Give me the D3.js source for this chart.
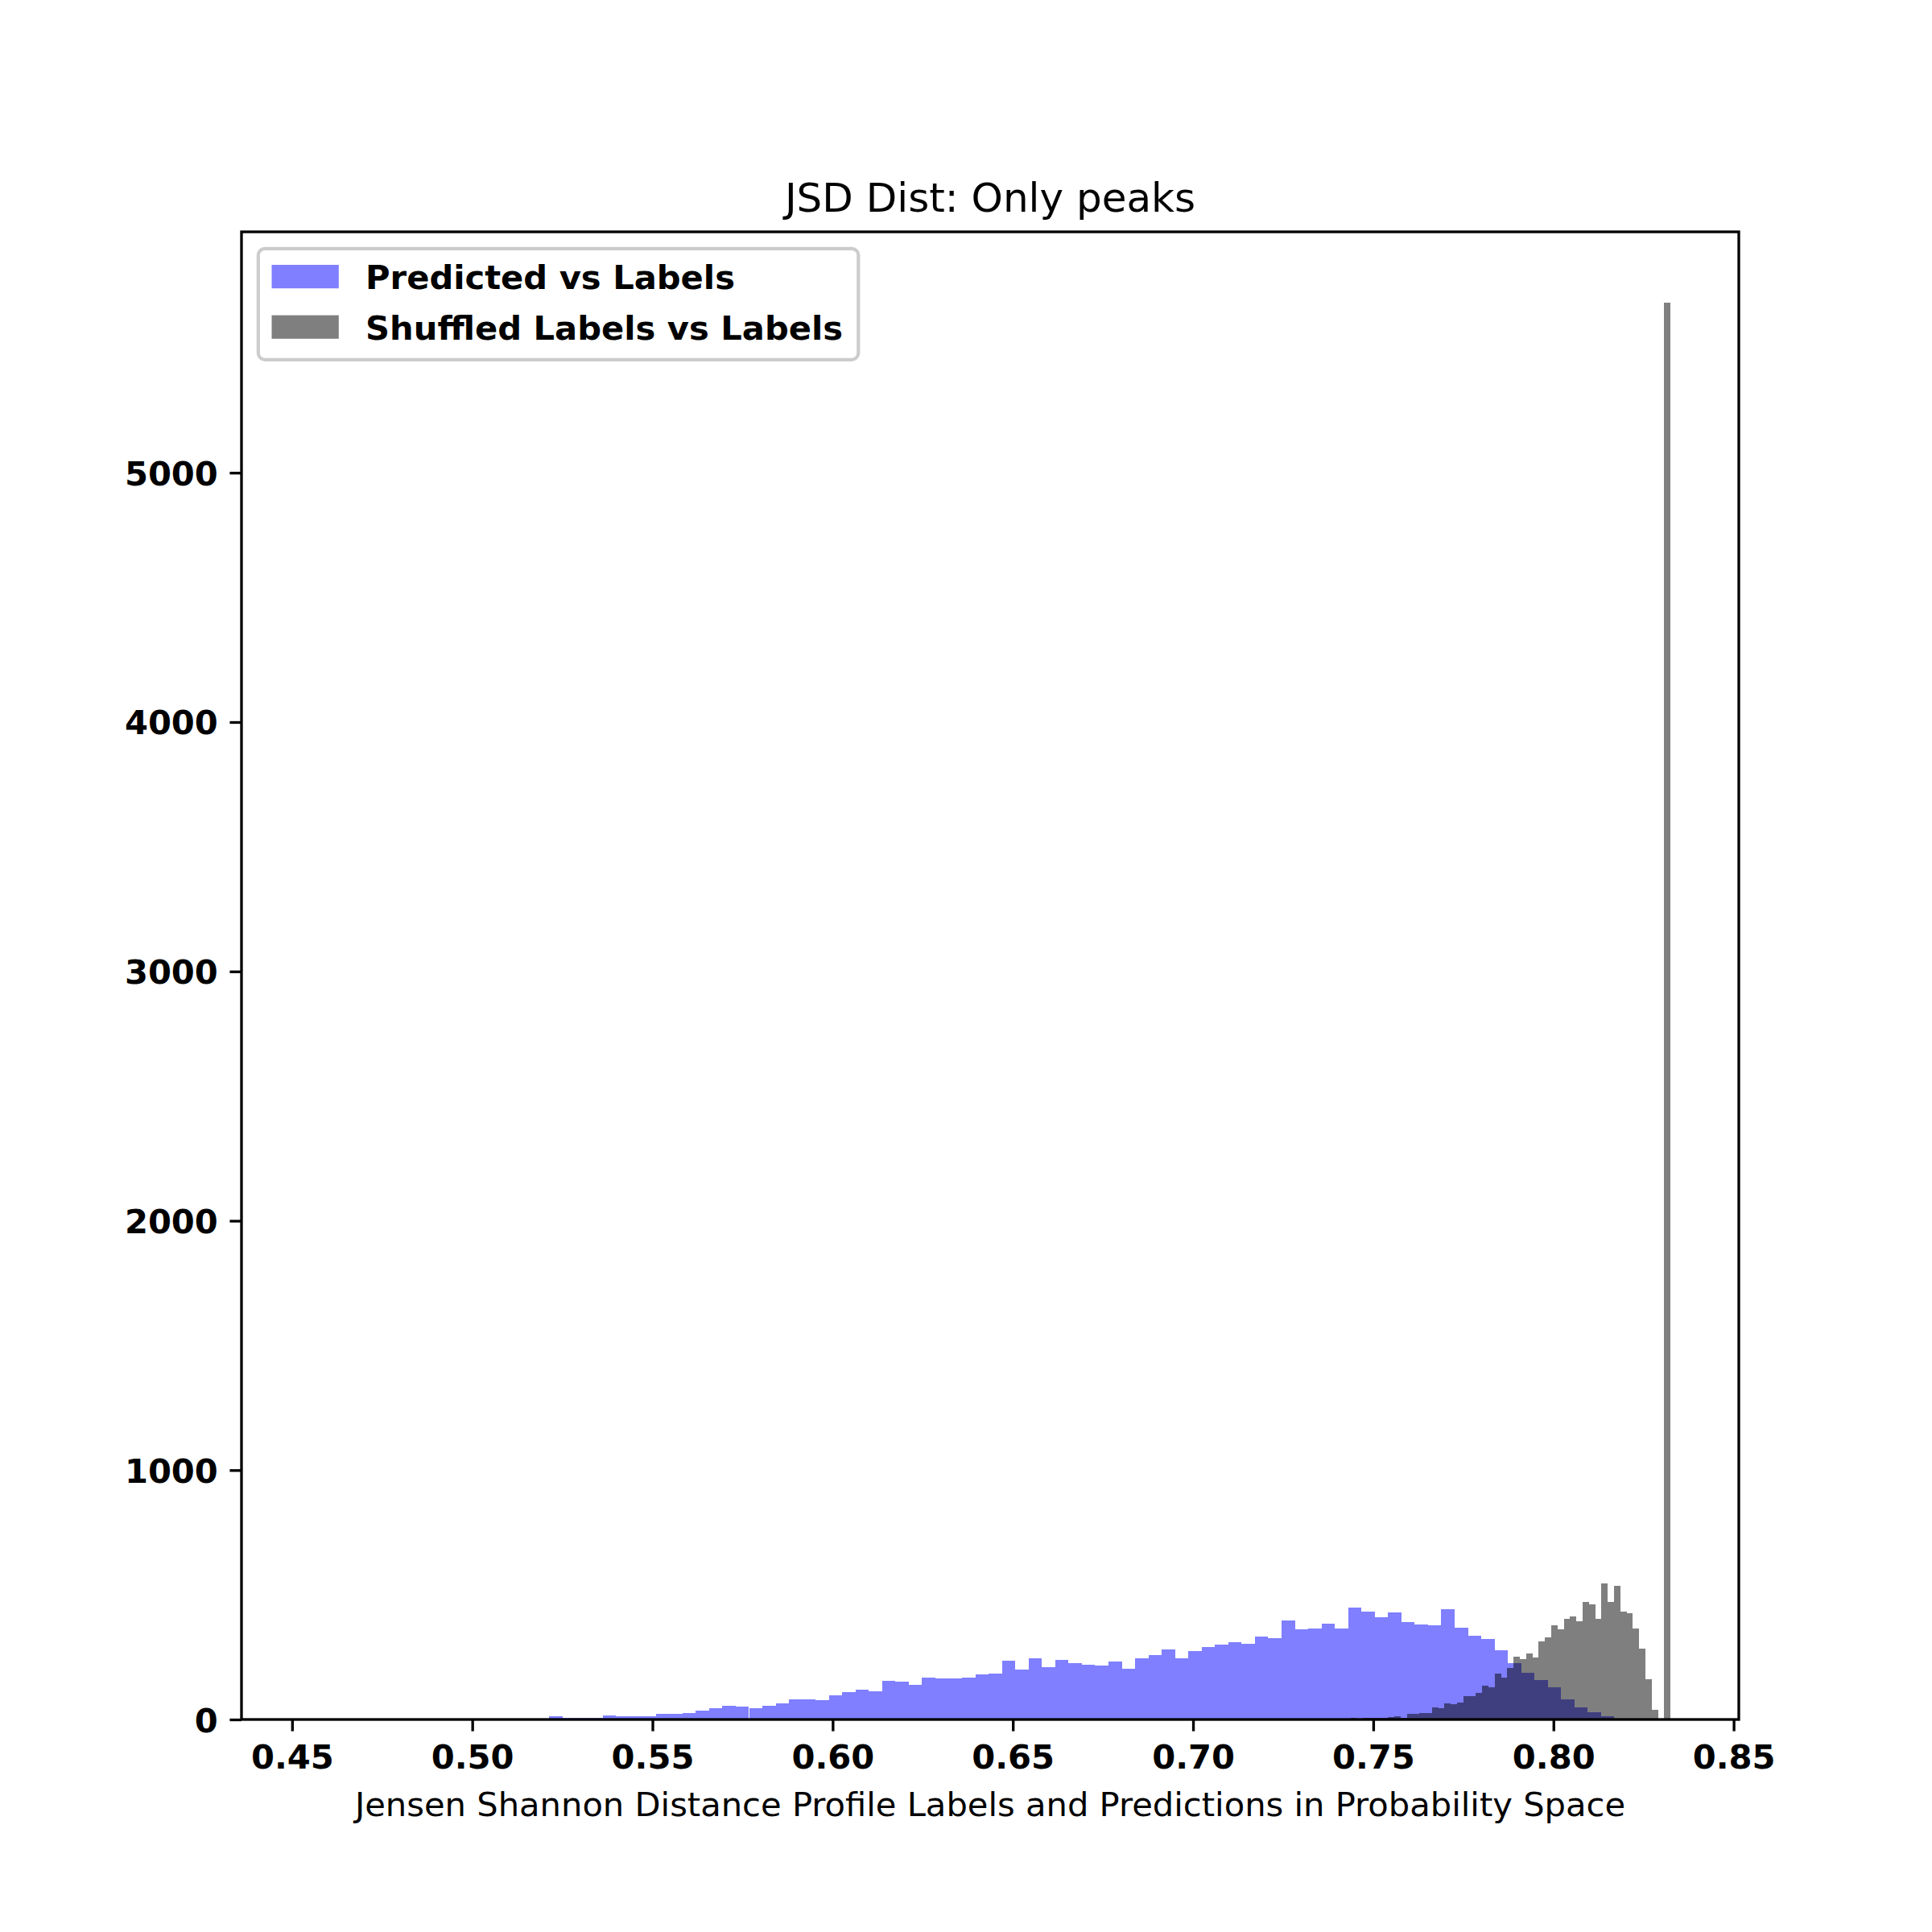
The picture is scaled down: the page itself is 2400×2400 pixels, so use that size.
<html>
  <head>
    <meta charset="utf-8">
    <script src="https://cdn.jsdelivr.net/npm/d3@7"></script>
    <style type="text/css">
      body {
        margin: 0;
        padding: 0;
        background: #ffffff;
      }
      text {
        font-family: 'DejaVu Sans', sans-serif;
      }
    </style>
  </head>
  <body>
    <svg id="chart" width="2400" height="2400"></svg>

    <script>
      /* Histogram data */
      const blueBinStart = 0.4549
      const blueBinWidth = 0.003694
      const blueCounts = [
        1, 0, 0, 0, 0, 0, 0, 0, 0, 0,
        0, 0, 0, 0, 0, 0, 0, 0, 13, 7,
        7, 7, 16, 13, 13, 13, 23, 23, 26, 36,
        45, 55, 52, 45, 55, 65, 81, 81, 77, 97,
        110, 119, 113, 155, 152, 139, 168, 165, 165, 168,
        181, 184, 236, 200, 245, 210, 239, 226, 220, 216,
        232, 203, 245, 258, 281, 245, 274, 291, 300, 310,
        303, 333, 326, 397, 362, 365, 384, 365, 449, 433,
        410, 429, 390, 381, 378, 442, 368, 336, 323, 278,
        226, 187, 158, 129, 81, 48, 29, 13, 1, 1
      ]

      const greyBinStart = 0.6583
      const greyBinWidth = 0.001742
      const greyCounts = [
        0, 0, 0, 0, 0, 0, 0, 0, 0, 0,
        0, 0, 0, 0, 0, 0, 0, 0, 0, 0,
        0, 0, 0, 0, 0, 0, 0, 0, 0, 0,
        0, 0, 0, 0, 0, 0, 0, 0, 0, 0,
        0, 0, 0, 0, 0, 0, 0, 0, 0, 6,
        1, 5, 5, 5, 5, 10, 13, 5, 23, 23,
        26, 26, 48, 45, 65, 61, 68, 94, 94, 107,
        136, 129, 184, 168, 207, 252, 242, 265, 249, 313,
        329, 378, 362, 404, 413, 394, 471, 462, 404, 546,
        471, 536, 433, 426, 365, 284, 161, 39, 0, 5682
      ]

      const xTicks = [0.45, 0.50, 0.55, 0.60, 0.65, 0.70, 0.75, 0.80, 0.85]
      const yTicks = [0, 1000, 2000, 3000, 4000, 5000]
      const xDomain = [0.43597, 0.85143]
      const yDomain = [0, 5966]

      const seriesNames = ['Predicted vs Labels', 'Shuffled Labels vs Labels']
      const seriesColors = ['#0000ff', '#000000']

      /* Layout */
      const plot = { left: 300, right: 2160, top: 288, bottom: 2136 }
      const fs = 41.67
      const tickLen = 14.58
      const lw = 3.33

      const svg = d3.select('#chart')
      svg.append('rect').attr('width', 2400).attr('height', 2400).attr('fill', '#ffffff')

      const x = d3.scaleLinear().domain(xDomain).range([plot.left, plot.right])
      const y = d3.scaleLinear().domain(yDomain).range([plot.bottom, plot.top])

      const toBins = (start, width, counts) => counts.map((c, i) => ({
        x0: start + i * width,
        x1: start + (i + 1) * width,
        count: c
      })).filter(d => d.count > 0)

      const drawHist = (bins, color) => {
        svg.append('g')
          .attr('shape-rendering', 'crispEdges')
          .selectAll('rect')
          .data(bins)
          .join('rect')
          .attr('x', d => x(d.x0))
          .attr('width', d => x(d.x1) - x(d.x0))
          .attr('y', d => y(d.count))
          .attr('height', d => y(0) - y(d.count))
          .attr('fill', color)
          .attr('fill-opacity', 0.5)
      }

      drawHist(toBins(blueBinStart, blueBinWidth, blueCounts), seriesColors[0])
      drawHist(toBins(greyBinStart, greyBinWidth, greyCounts), seriesColors[1])

      /* Axes */
      const xAxis = svg.append('g')
        .attr('transform', `translate(0,${plot.bottom})`)
        .call(d3.axisBottom(x).tickValues(xTicks).tickFormat(d3.format('.2f'))
          .tickSize(tickLen).tickPadding(tickLen).tickSizeOuter(0))
      const yAxis = svg.append('g')
        .attr('transform', `translate(${plot.left},0)`)
        .call(d3.axisLeft(y).tickValues(yTicks).tickFormat(d3.format('d'))
          .tickSize(tickLen).tickPadding(tickLen).tickSizeOuter(0))

      for (const ax of [xAxis, yAxis]) {
        ax.select('.domain').remove()
        ax.selectAll('.tick line').attr('stroke', '#000').attr('stroke-width', lw)
        ax.selectAll('.tick text')
          .attr('fill', '#000')
          .style('font-family', "'DejaVu Sans', sans-serif")
          .style('font-size', fs + 'px')
          .style('font-weight', 'bold')
      }
      xAxis.selectAll('.tick text').attr('dy', '0.76em')
      yAxis.selectAll('.tick text').attr('dy', '0.36em')

      /* Frame */
      svg.append('rect')
        .attr('x', plot.left)
        .attr('y', plot.top)
        .attr('width', plot.right - plot.left)
        .attr('height', plot.bottom - plot.top)
        .attr('fill', 'none')
        .attr('stroke', '#000')
        .attr('stroke-width', lw)

      /* Title and label */
      svg.append('text')
        .attr('x', (plot.left + plot.right) / 2)
        .attr('y', 263)
        .attr('text-anchor', 'middle')
        .style('font-size', '50px')
        .text('JSD Dist: Only peaks')

      svg.append('text')
        .attr('x', (plot.left + plot.right) / 2)
        .attr('y', 2256)
        .attr('text-anchor', 'middle')
        .style('font-size', fs + 'px')
        .text('Jensen Shannon Distance Profile Labels and Predictions in Probability Space')

      /* Legend */
      const legend = svg.append('g')
      legend.append('rect')
        .attr('x', 320.8)
        .attr('y', 308.8)
        .attr('width', 745.5)
        .attr('height', 138)
        .attr('rx', 8.3)
        .attr('fill', '#ffffff')
        .attr('fill-opacity', 0.8)
        .attr('stroke', '#cccccc')
        .attr('stroke-width', 4.17)

      seriesNames.forEach((name, i) => {
        const rowY = 329 + i * 62.6
        legend.append('rect')
          .attr('x', 337.5)
          .attr('y', rowY)
          .attr('width', 83.3)
          .attr('height', 29.2)
          .attr('fill', seriesColors[i])
          .attr('fill-opacity', 0.5)
        legend.append('text')
          .attr('x', 454.1)
          .attr('y', rowY + 30)
          .style('font-size', fs + 'px')
          .style('font-weight', 'bold')
          .text(name)
      })
    </script>
  </body>
</html>
